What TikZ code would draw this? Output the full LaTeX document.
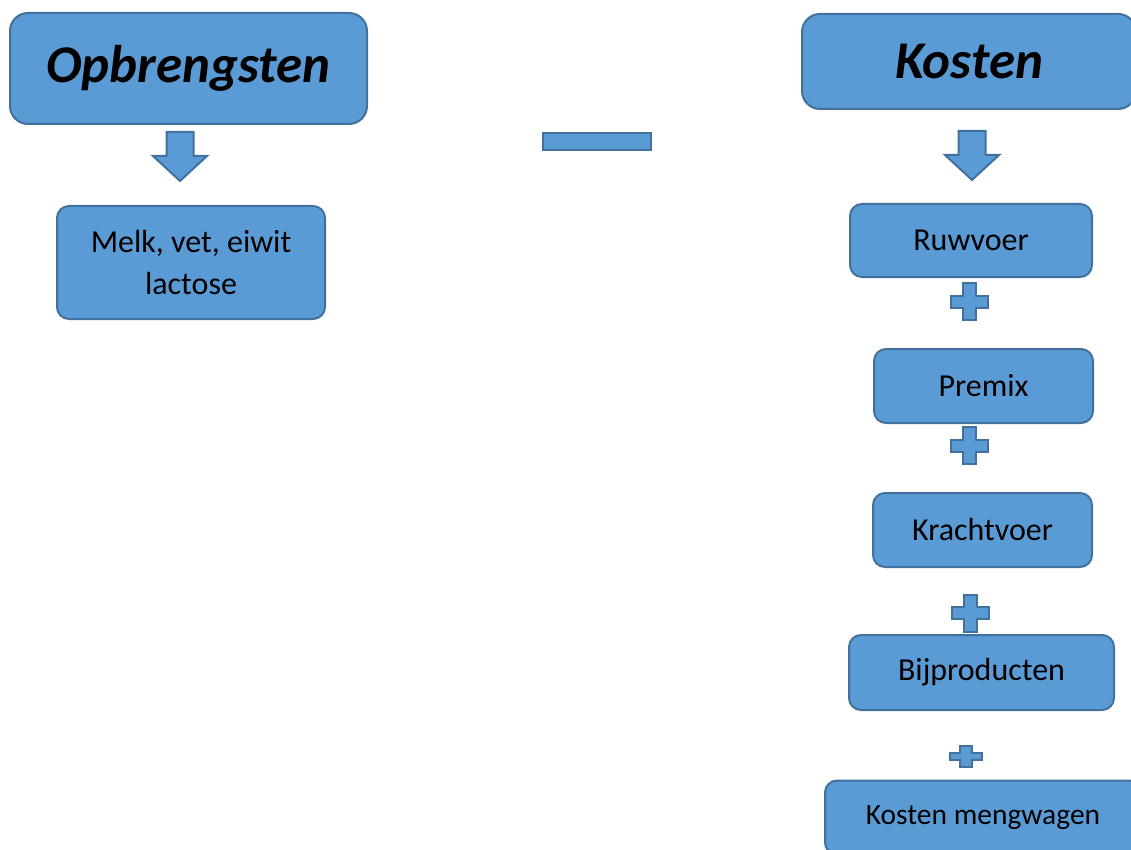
\documentclass[tikz,border=0pt]{standalone}
\usepackage{fontspec}
\setmainfont{Carlito}
\usepackage{xcolor}
\definecolor{xblue}{HTML}{5B9BD5}
\definecolor{xborder}{HTML}{41719C}
\tikzset{
	blockshape/.style={draw=xborder, fill=xblue, line width=2pt, line join=miter},
	box/.style={blockshape, rounded corners=12pt, align=center, inner sep=0pt, font=\fontsize{32}{42}\selectfont},
	titlebox/.style={box, rounded corners=18pt, font=\fontsize{53}{62}\selectfont\bfseries\itshape},
	downarrow/.pic={
		\draw[blockshape] (-13.5,0) -- (13.5,0) -- (13.5,24) -- (27,24) -- (0,49) -- (-27,24) -- (-13.5,24) -- cycle;
	},
	plussign/.pic={
		\draw[blockshape] (-6.5,-18.5) -- (6.5,-18.5) -- (6.5,-6) -- (18.5,-6) -- (18.5,6) -- (6.5,6) -- (6.5,18.5) -- (-6.5,18.5) -- (-6.5,6) -- (-18.5,6) -- (-18.5,-6) -- (-6.5,-6) -- cycle;
	},
}

\begin{document}
\begin{tikzpicture}[x=1pt, y=-1pt]
		\clip (0,0) rectangle (1131,850);

		% Opbrengsten
		\node[titlebox, minimum width=357pt, minimum height=111pt] (opb) at (188.5,68.5) {Opbrengsten};
		\pic at (180,132) {downarrow};
		\node[box, minimum width=268pt, minimum height=113pt] (melk) at (191,262.5) {Melk, vet, eiwit\\lactose};

		% minus
		\draw[blockshape] (543,133) rectangle (651,150);

		% Kosten
		\node[titlebox, minimum width=334pt, minimum height=95pt] (kosten) at (969,61.5) {Kosten};
		\pic at (972,131) {downarrow};
		\node[box, minimum width=242pt, minimum height=73pt] (ruwvoer) at (971,240.5) {Ruwvoer};
		\pic at (969,301.5) {plussign};
		\node[box, minimum width=219pt, minimum height=74pt] (premix) at (983.5,386) {Premix};
		\pic at (969,445.5) {plussign};
		\node[box, minimum width=219pt, minimum height=74pt] (kracht) at (982.5,530) {Krachtvoer};
		\pic at (970,613) {plussign};
		\node[box, minimum width=265pt, minimum height=75pt] (bijprod) at (981.5,672.5) {Bijproducten};
		\pic[xscale=0.86, yscale=0.58] at (966,756.5) {plussign};
		\node[box, minimum width=316pt, minimum height=74pt, font=\fontsize{29.5}{36}\selectfont] (mengwagen) at (983,817.5) {Kosten mengwagen};
	\end{tikzpicture}
\end{document}
